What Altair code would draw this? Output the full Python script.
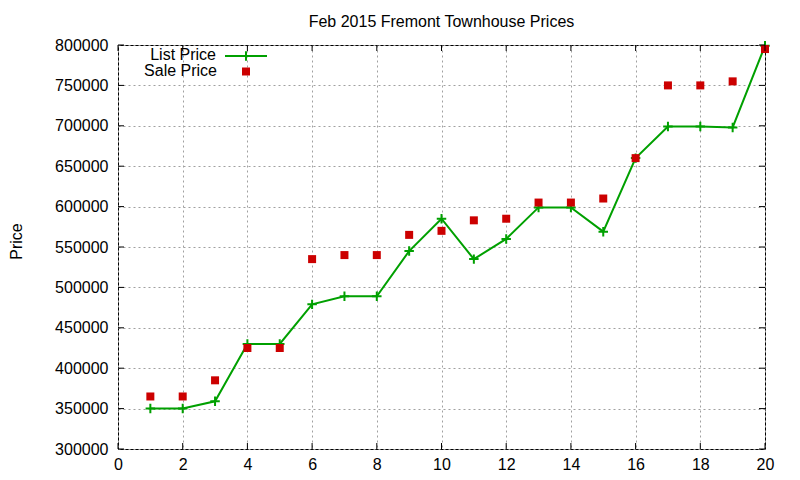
import altair as alt
import pandas as pd

# ---- data ----
x_vals = list(range(1, 21))
list_price = [350000, 350000, 359000, 430000, 430000, 479000, 489000, 489000, 545000, 585000,
              535000, 560000, 599000, 599000, 569000, 660000, 699000, 699000, 698000, 799000]
sale_price = [365000, 365000, 385000, 425000, 425000, 535000, 540000, 540000, 565000, 570000,
              583000, 585000, 605000, 605000, 610000, 660000, 750000, 750000, 755000, 795000]
x_ticks = [0, 2, 4, 6, 8, 10, 12, 14, 16, 18, 20]
y_ticks = [300000, 350000, 400000, 450000, 500000, 550000, 600000, 650000, 700000, 750000, 800000]
title_text = "Feb 2015 Fremont Townhouse Prices"
y_title = "Price"
legend_labels = ["List Price", "Sale Price"]

GREEN = "#00a000"
RED = "#cc0000"
FONT = "Liberation Sans"
FS = 16

W, H = 647, 404

df_list = pd.DataFrame({"x": x_vals, "price": list_price})
df_sale = pd.DataFrame({"x": x_vals, "price": sale_price})
df_xt = pd.DataFrame({"x": x_ticks})
df_yt = pd.DataFrame({"price": y_ticks})

xscale = alt.Scale(domain=[0, 20], nice=False, zero=False)
yscale = alt.Scale(domain=[300000, 800000], nice=False, zero=False)

xaxis = alt.Axis(values=x_ticks, title=None, grid=True, gridColor="#a0a0a0",
                 gridDash=[2, 3], gridWidth=1, ticks=False, domain=False,
                 labelPadding=7, labelFont=FONT, labelFontSize=FS, labelColor="#000",
                 format="d", labelFlush=False)
yaxis = alt.Axis(values=y_ticks, title=y_title, grid=True, gridColor="#a0a0a0",
                 gridDash=[2, 3], gridWidth=1, ticks=False, domain=False,
                 labelPadding=10, labelFont=FONT, labelFontSize=FS, labelColor="#000",
                 format="d", titleFont=FONT, titleFontSize=FS, titleFontWeight="normal",
                 titleColor="#000", titleAngle=270, titleX=-97, titleY=196,
                 titleAlign="center", titleBaseline="alphabetic")

X = alt.X("x:Q", scale=xscale, axis=xaxis)
Y = alt.Y("price:Q", scale=yscale, axis=yaxis)

line = alt.Chart(df_list).mark_line(color=GREEN, strokeWidth=2).encode(x=X, y=Y)
plus = alt.Chart(df_list).mark_point(
    shape="M-1,0L1,0M0,-1L0,1", size=90, filled=False, color=GREEN, strokeWidth=2, opacity=1
).encode(x=X, y=Y)
squares = alt.Chart(df_sale).mark_square(size=64, color=RED, opacity=1).encode(x=X, y=Y)

# inward (mirrored) ticks, gnuplot style
xt_bottom = alt.Chart(df_xt).mark_rule(color="#000", strokeWidth=1).encode(
    x=X, y=alt.value(H), y2=alt.value(H - 6))
xt_top = alt.Chart(df_xt).mark_rule(color="#000", strokeWidth=1).encode(
    x=X, y=alt.value(0), y2=alt.value(6))
yt_left = alt.Chart(df_yt).mark_rule(color="#000", strokeWidth=1).encode(
    y=Y, x=alt.value(0), x2=alt.value(6))
yt_right = alt.Chart(df_yt).mark_rule(color="#000", strokeWidth=1).encode(
    y=Y, x=alt.value(W - 6), x2=alt.value(W))

# title as text
title = alt.Chart(pd.DataFrame({"t": [title_text]})).mark_text(
    font=FONT, fontSize=FS, color="#000", align="center", baseline="alphabetic"
).encode(text="t:N", x=alt.value(W / 2), y=alt.value(-18))

# gnuplot-style key (label left, sample right)
key_text1 = alt.Chart(pd.DataFrame({"label": [legend_labels[0]]})).mark_text(
    font=FONT, fontSize=FS, color="#000", align="right", baseline="alphabetic"
).encode(text="label:N", x=alt.value(98), y=alt.value(14.5))
key_text2 = alt.Chart(pd.DataFrame({"label": [legend_labels[1]]})).mark_text(
    font=FONT, fontSize=FS, color="#000", align="right", baseline="alphabetic"
).encode(text="label:N", x=alt.value(99), y=alt.value(31))
key_line = alt.Chart(pd.DataFrame({"label": [legend_labels[0]]})).mark_rule(
    color=GREEN, strokeWidth=2).encode(x=alt.value(107), x2=alt.value(149), y=alt.value(11))
key_plus = alt.Chart(pd.DataFrame({"label": [legend_labels[0]]})).mark_point(
    shape="M-1,0L1,0M0,-1L0,1", size=90, filled=False, color=GREEN, strokeWidth=2, opacity=1
).encode(x=alt.value(128), y=alt.value(11))
key_sq = alt.Chart(pd.DataFrame({"label": [legend_labels[1]]})).mark_square(
    size=64, color=RED, opacity=1).encode(x=alt.value(128), y=alt.value(26.5))

chart = alt.layer(
    line, plus, squares, xt_bottom, xt_top, yt_left, yt_right,
    title, key_text1, key_text2, key_line, key_plus, key_sq
).properties(
    width=W, height=H,
    autosize=alt.AutoSizeParams(type="none"),
    padding={"left": 110, "top": 37, "right": 20, "bottom": 25},
    background="white",
).configure_view(stroke="#000", strokeWidth=1)

chart.save("out.html", embed_options={"renderer": "svg", "actions": False})
